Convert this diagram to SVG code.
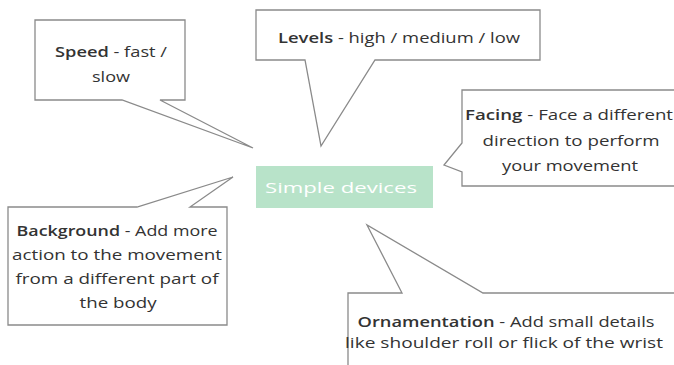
<svg xmlns="http://www.w3.org/2000/svg" width="674" height="365" viewBox="0 0 674 365">
<style>
.call{fill:#fff;stroke:#8a8a8a;stroke-width:1.3;stroke-linejoin:miter}
.t{font-family:"Open Sans","Liberation Sans",sans-serif;font-size:14.5px;fill:#333333;text-anchor:middle}
.b{font-weight:600}
.c{font-family:"Open Sans","Liberation Sans",sans-serif;font-size:14px;fill:#ffffff;text-anchor:middle}
</style>
<rect width="674" height="365" fill="#ffffff"/>
<g id="connectors"></g>
<g id="center">
<rect x="256" y="166" width="177" height="42" fill="#b8e3c9"/>
<text class="c" x="341" y="193" textLength="152" lengthAdjust="spacingAndGlyphs">Simple devices</text>
</g>
<g id="speed">
<path class="call" d="M35,20 H185 V100 H160 L253,148 L122,100 H35 Z"/>
<text class="t" x="111" y="57" textLength="112" lengthAdjust="spacingAndGlyphs"><tspan class="b">Speed</tspan> - fast /</text>
<text class="t" x="111" y="82" textLength="38" lengthAdjust="spacingAndGlyphs">slow</text>
</g>
<g id="levels">
<path class="call" d="M256,10 H540 V60 H375 L321,146 L305,60 H256 Z"/>
<text class="t" x="399" y="43" textLength="242" lengthAdjust="spacingAndGlyphs"><tspan class="b">Levels</tspan> - high / medium / low</text>
</g>
<g id="facing">
<path class="call" d="M462,90 H682 V186 H462 V172 L444,165 L462,143 Z"/>
<text class="t" x="569" y="120" textLength="208" lengthAdjust="spacingAndGlyphs"><tspan class="b">Facing</tspan> - Face a different</text>
<text class="t" x="571" y="146" textLength="177" lengthAdjust="spacingAndGlyphs">direction to perform</text>
<text class="t" x="570" y="171" textLength="136" lengthAdjust="spacingAndGlyphs">your movement</text>
</g>
<g id="background">
<path class="call" d="M8,207 H137 L233,177 L190,207 H227 V325 H8 Z"/>
<text class="t" x="117" y="236" textLength="201" lengthAdjust="spacingAndGlyphs"><tspan class="b">Background</tspan> - Add more</text>
<text class="t" x="117" y="260" textLength="210" lengthAdjust="spacingAndGlyphs">action to the movement</text>
<text class="t" x="117" y="284" textLength="203" lengthAdjust="spacingAndGlyphs">from a different part of</text>
<text class="t" x="118" y="308" textLength="77" lengthAdjust="spacingAndGlyphs">the body</text>
</g>
<g id="ornamentation">
<path class="call" d="M348,293 H402 L367,225 L483,293 H682 V372 H348 Z"/>
<text class="t" x="506" y="327" textLength="297" lengthAdjust="spacingAndGlyphs"><tspan class="b">Ornamentation</tspan> - Add small details</text>
<text class="t" x="504" y="348" textLength="318" lengthAdjust="spacingAndGlyphs">like shoulder roll or flick of the wrist</text>
</g>
</svg>
